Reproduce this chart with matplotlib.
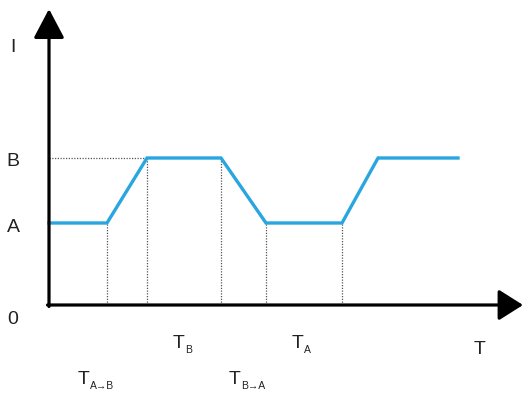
import matplotlib.pyplot as plt

plt.rcParams['font.family'] = ['Liberation Sans', 'DejaVu Sans']

# current profile (origin at the axes corner)
t = [0, 58, 98, 172, 217, 293, 329, 409]
cur = [82, 82, 147, 147, 82, 82, 147, 147]
A = 82
B = 147
guides = [58, 98, 172, 217, 293]

fig = plt.figure(figsize=(5.24, 3.95), dpi=100)
ax = fig.add_axes([0, 0, 1, 1])
ax.set_xlim(-49, 475)
ax.set_ylim(-90, 305)
ax.axis('off')

# dotted guides
ax.plot([0, 98], [B, B], color='#555555', lw=0.9, ls=(0, (1, 1.2)))
for g in guides:
    ax.plot([g, g], [0, cur[t.index(g)]], color='#555555', lw=0.9, ls=(0, (1, 1.2)))

ax.plot(t, cur, color='#29a6df', lw=2.4, solid_joinstyle='miter')

# axes arrows
ax.annotate('', xy=(0, 296), xytext=(0, -1.5),
            arrowprops=dict(arrowstyle='-|>,head_length=1.8,head_width=0.95',
                            lw=2.3, color='black', shrinkA=0, shrinkB=0))
ax.annotate('', xy=(474, 0), xytext=(-1.5, 0),
            arrowprops=dict(arrowstyle='-|>,head_length=1.5,head_width=0.95',
                            lw=2.3, color='black', shrinkA=0, shrinkB=0))

fs = 14
ax.text(-36, 258, 'I', fontsize=fs, ha='center', va='center', color='#222222')
ax.text(-36, B - 3, 'B', fontsize=fs, ha='center', va='center', color='#222222')
ax.text(-36, A - 5, 'A', fontsize=fs, ha='center', va='center', color='#222222')
ax.text(-36, -15, '0', fontsize=fs, ha='center', va='center', color='#222222')
ax.text(431, -45, 'T', fontsize=fs, ha='center', va='center', color='#222222')


def tlabel(x, y, sub):
    ax.text(x, y, 'T', fontsize=fs, ha='left', va='center', color='#222222')
    ax.text(x + 12, y - 6, sub, fontsize=7.5, ha='left', va='center', color='#222222')


tlabel(124, -39, 'B')
tlabel(243, -39, 'A')
tlabel(29, -75, 'A\u2192B')
tlabel(180, -75, 'B\u2192A')

fig.savefig('out.png', dpi=100)
